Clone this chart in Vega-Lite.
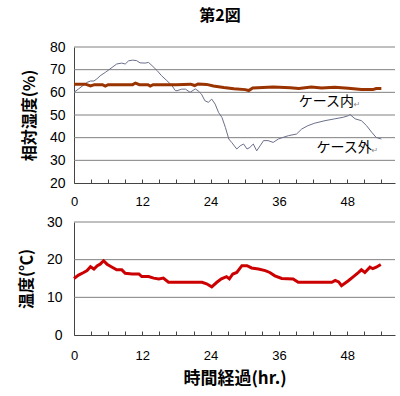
{
  "$schema": "https://vega.github.io/schema/vega-lite/v6.json",
  "padding": {"left": 18, "top": 8, "right": 7, "bottom": 4},
  "title": {"text": "第2図", "fontSize": 16, "font": "Noto Sans CJK JP", "fontWeight": "bold", "color": "#000", "anchor": "middle", "offset": 16, "dx": 13},
  "bounds": "flush",
  "spacing": 39,
  "datasets": {
    "rh_grid": [{"rh": 30}, {"rh": 40}, {"rh": 50}, {"rh": 60}, {"rh": 70}, {"rh": 80}],
    "t_grid": [{"t": 10}, {"t": 20}, {"t": 30}],
    "rh_out": [
      {"hour": 0, "rh": 60}, {"hour": 0.8, "rh": 61.5}, {"hour": 2.3, "rh": 64.4}, {"hour": 2.9, "rh": 65}, {"hour": 3.5, "rh": 65},
      {"hour": 4, "rh": 65.9}, {"hour": 4.6, "rh": 67.3}, {"hour": 5.5, "rh": 68.8}, {"hour": 6.7, "rh": 71}, {"hour": 7.5, "rh": 72.5},
      {"hour": 8.4, "rh": 72.9}, {"hour": 9, "rh": 72.5}, {"hour": 9.6, "rh": 73.9}, {"hour": 10.3, "rh": 74.2}, {"hour": 11, "rh": 74},
      {"hour": 11.6, "rh": 73}, {"hour": 12.5, "rh": 72.9}, {"hour": 13.1, "rh": 73.2}, {"hour": 13.7, "rh": 71.8}, {"hour": 14.6, "rh": 69.6},
      {"hour": 15.4, "rh": 67.3}, {"hour": 16.3, "rh": 65.2}, {"hour": 17.2, "rh": 63}, {"hour": 17.8, "rh": 60.8}, {"hour": 18.1, "rh": 60.7},
      {"hour": 18.9, "rh": 61.4}, {"hour": 19.6, "rh": 61.4}, {"hour": 20.4, "rh": 60}, {"hour": 21.3, "rh": 61.5}, {"hour": 21.8, "rh": 60.7},
      {"hour": 22.4, "rh": 59.2}, {"hour": 23, "rh": 56.3}, {"hour": 23.6, "rh": 55.6}, {"hour": 24.2, "rh": 57}, {"hour": 24.8, "rh": 54.8},
      {"hour": 25.4, "rh": 51.1}, {"hour": 26, "rh": 48.9}, {"hour": 26.6, "rh": 44.5}, {"hour": 27.2, "rh": 39.4}, {"hour": 27.7, "rh": 37.9},
      {"hour": 28.6, "rh": 35}, {"hour": 29.2, "rh": 36.4}, {"hour": 29.8, "rh": 37.2}, {"hour": 30.4, "rh": 35}, {"hour": 30.9, "rh": 35.7},
      {"hour": 31.5, "rh": 37.2}, {"hour": 32.1, "rh": 34.2}, {"hour": 32.7, "rh": 36.4}, {"hour": 33.3, "rh": 38.7}, {"hour": 34.1, "rh": 38.7},
      {"hour": 35, "rh": 37.9}, {"hour": 35.9, "rh": 39.4}, {"hour": 36.7, "rh": 40.1}, {"hour": 37.7, "rh": 40.9}, {"hour": 39.1, "rh": 41.6},
      {"hour": 40, "rh": 43.8}, {"hour": 41.1, "rh": 45.3}, {"hour": 42.3, "rh": 46.4}, {"hour": 44.1, "rh": 47.5}, {"hour": 45.8, "rh": 48.3},
      {"hour": 47.3, "rh": 49}, {"hour": 48.2, "rh": 49.7}, {"hour": 48.5, "rh": 50.2}, {"hour": 49.4, "rh": 48.3}, {"hour": 50.5, "rh": 47.5},
      {"hour": 51.4, "rh": 45.3}, {"hour": 52.3, "rh": 42.4}, {"hour": 53.1, "rh": 40.1}, {"hour": 54, "rh": 39.4}
    ],
    "rh_in": [
      {"hour": 0, "rh": 63.6}, {"hour": 2, "rh": 63.6}, {"hour": 2.9, "rh": 62.8}, {"hour": 3.6, "rh": 63.4}, {"hour": 5, "rh": 63.4},
      {"hour": 5.5, "rh": 62.8}, {"hour": 6, "rh": 63.4}, {"hour": 10.3, "rh": 63.4}, {"hour": 10.8, "rh": 64.1}, {"hour": 11.5, "rh": 63.4},
      {"hour": 13, "rh": 63.4}, {"hour": 13.4, "rh": 62.8}, {"hour": 13.9, "rh": 63.4}, {"hour": 18, "rh": 63.4}, {"hour": 20.5, "rh": 63.6},
      {"hour": 21.2, "rh": 63.0}, {"hour": 21.8, "rh": 63.7}, {"hour": 23.3, "rh": 63.5}, {"hour": 24.5, "rh": 62.8}, {"hour": 26.3, "rh": 62.1},
      {"hour": 28.1, "rh": 61.6}, {"hour": 30.1, "rh": 61.2}, {"hour": 30.7, "rh": 60.8}, {"hour": 31.4, "rh": 61.9}, {"hour": 35, "rh": 62.3},
      {"hour": 38, "rh": 62.0}, {"hour": 39.5, "rh": 61.7}, {"hour": 41.7, "rh": 62.3}, {"hour": 43.5, "rh": 61.9}, {"hour": 45.8, "rh": 62.2},
      {"hour": 48.2, "rh": 61.8}, {"hour": 50.5, "rh": 61.2}, {"hour": 52.5, "rh": 61.2}, {"hour": 53.1, "rh": 61.7}, {"hour": 54, "rh": 61.7}
    ],
    "labels": [
      {"hour": 39.5, "rh": 55.7, "label": "ケース内"},
      {"hour": 42.6, "rh": 35.4, "label": "ケース外"}
    ],
    "temp": [
      {"hour": 0, "t": 15.0}, {"hour": 0.8, "t": 15.9}, {"hour": 1.7, "t": 16.6}, {"hour": 2.3, "t": 17.1}, {"hour": 2.9, "t": 18.1},
      {"hour": 3.5, "t": 17.5}, {"hour": 4.1, "t": 18.4}, {"hour": 4.6, "t": 18.8}, {"hour": 5.2, "t": 19.7}, {"hour": 5.8, "t": 18.8},
      {"hour": 6.7, "t": 18.0}, {"hour": 7.5, "t": 17.3}, {"hour": 8.4, "t": 17.3}, {"hour": 9.0, "t": 16.4}, {"hour": 10.2, "t": 16.2},
      {"hour": 11.4, "t": 16.2}, {"hour": 11.9, "t": 15.5}, {"hour": 13.1, "t": 15.5}, {"hour": 14, "t": 15.1}, {"hour": 14.9, "t": 14.9},
      {"hour": 15.7, "t": 15.1}, {"hour": 16.6, "t": 14.0}, {"hour": 22.5, "t": 14.0}, {"hour": 23.3, "t": 13.6}, {"hour": 24.2, "t": 12.8},
      {"hour": 25.1, "t": 14.0}, {"hour": 25.9, "t": 14.9}, {"hour": 26.8, "t": 15.5}, {"hour": 27.3, "t": 14.9}, {"hour": 27.9, "t": 16.2},
      {"hour": 28.6, "t": 16.6}, {"hour": 29.5, "t": 18.4}, {"hour": 30.4, "t": 18.4}, {"hour": 31.2, "t": 17.8}, {"hour": 32.4, "t": 17.5},
      {"hour": 33.6, "t": 17.1}, {"hour": 34.4, "t": 16.6}, {"hour": 35.3, "t": 15.7}, {"hour": 36.5, "t": 15.0}, {"hour": 38.5, "t": 14.9},
      {"hour": 39.4, "t": 14.0}, {"hour": 45.3, "t": 14.0}, {"hour": 45.9, "t": 14.5}, {"hour": 46.5, "t": 14.1}, {"hour": 47.0, "t": 13.1},
      {"hour": 48.2, "t": 14.4}, {"hour": 49.1, "t": 15.5}, {"hour": 50, "t": 16.6}, {"hour": 50.5, "t": 17.3}, {"hour": 51.1, "t": 16.6},
      {"hour": 52, "t": 18.0}, {"hour": 52.5, "t": 17.6}, {"hour": 53.1, "t": 18.0}, {"hour": 53.9, "t": 18.7}
    ]
  },
  "config": {
    "view": {"stroke": null},
    "axis": {
      "grid": false,
      "domainColor": "#444444", "tickColor": "#444444",
      "labelFont": "Liberation Sans", "labelColor": "#000000", "labelOverlap": false,
      "titleFont": "Noto Sans CJK JP", "titleFontWeight": "bold", "titleColor": "#000000"
    }
  },
  "vconcat": [
    {
      "width": 321,
      "height": 136,
      "layer": [
        {
          "data": {"name": "rh_grid"},
          "mark": {"type": "rule", "color": "#808080", "strokeWidth": 1},
          "encoding": {
            "y": {"field": "rh", "type": "quantitative", "scale": {"domain": [20, 80], "nice": false, "zero": false},
                  "axis": {"values": [20, 30, 40, 50, 60, 70, 80], "grid": false, "ticks": false, "labelPadding": 9, "labelFontSize": 14,
                           "title": "相対湿度(%)", "titleFontSize": 16, "titlePadding": 12}}
          }
        },
        {
          "encoding": {
            "x": {"field": "hour", "type": "quantitative", "scale": {"domain": [0, 56.4], "nice": false},
                  "axis": {"values": [0, 3, 6, 9, 12, 15, 18, 21, 24, 27, 30, 33, 36, 39, 42, 45, 48, 51, 54],
                           "labelExpr": "datum.value % 12 === 0 ? datum.label : ''", "grid": false,
                           "tickSize": -4, "labelPadding": 16, "labelFontSize": 13, "title": null, "labelFlush": false}},
            "y": {"field": "rh", "type": "quantitative", "scale": {"domain": [20, 80], "nice": false, "zero": false},
                  "axis": {"values": [20, 30, 40, 50, 60, 70, 80], "grid": false, "ticks": false, "labelPadding": 9, "labelFontSize": 14,
                           "title": "相対湿度(%)", "titleFontSize": 16, "titlePadding": 12}}
          },
          "layer": [
            {
              "data": {"name": "rh_out"},
              "mark": {"type": "line", "color": "#6b6f8a", "strokeWidth": 1}
            },
            {
              "data": {"name": "rh_in"},
              "mark": {"type": "line", "color": "#993300", "strokeWidth": 3}
            },
            {
              "data": {"name": "labels"},
              "mark": {"type": "text", "align": "left", "baseline": "middle", "font": "Noto Sans CJK JP", "fontSize": 14, "color": "#000000"},
              "encoding": {"text": {"field": "label"}}
            },
            {
              "data": {"name": "labels"},
              "mark": {"type": "text", "align": "left", "baseline": "middle", "dx": 55, "dy": 3, "fontSize": 8, "color": "#888888", "font": "DejaVu Sans"},
              "encoding": {"text": {"value": "↵"}}
            }
          ]
        }
      ]
    },
    {
      "width": 321,
      "height": 113,
      "layer": [
        {
          "data": {"name": "t_grid"},
          "mark": {"type": "rule", "color": "#808080", "strokeWidth": 1},
          "encoding": {
            "y": {"field": "t", "type": "quantitative", "scale": {"domain": [0, 30], "nice": false},
                  "axis": {"values": [0, 10, 20, 30], "grid": false, "ticks": false, "labelPadding": 12, "labelFontSize": 14,
                           "title": "温度(℃)", "titleFontSize": 16, "titlePadding": 12}}
          }
        },
        {
          "data": {"name": "temp"},
          "mark": {"type": "line", "color": "#cc0000", "strokeWidth": 3},
          "encoding": {
            "x": {"field": "hour", "type": "quantitative", "scale": {"domain": [0, 56.4], "nice": false},
                  "axis": {"values": [0, 3, 6, 9, 12, 15, 18, 21, 24, 27, 30, 33, 36, 39, 42, 45, 48, 51, 54],
                           "labelExpr": "datum.value % 12 === 0 ? datum.label : ''", "grid": false,
                           "tickSize": -4, "labelPadding": 18, "labelFontSize": 13, "labelFlush": false,
                           "title": "時間経過(hr.)", "titleFontSize": 17, "titlePadding": 8}},
            "y": {"field": "t", "type": "quantitative", "scale": {"domain": [0, 30], "nice": false},
                  "axis": {"values": [0, 10, 20, 30], "grid": false, "ticks": false, "labelPadding": 12, "labelFontSize": 14,
                           "title": "温度(℃)", "titleFontSize": 16, "titlePadding": 12}}
          }
        }
      ]
    }
  ]
}
